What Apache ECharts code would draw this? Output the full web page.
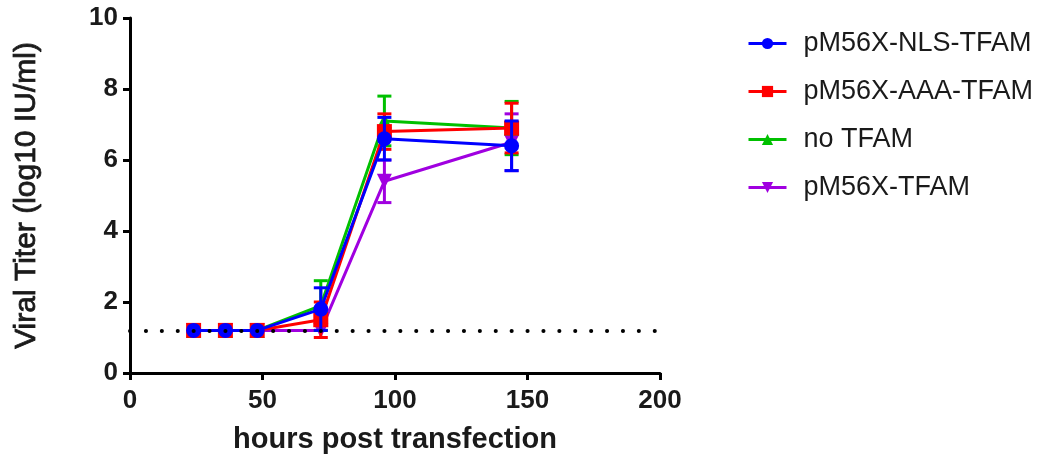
<!DOCTYPE html>
<html>
<head>
<meta charset="utf-8">
<script src="https://cdn.jsdelivr.net/npm/echarts@6/dist/echarts.min.js"></script>
<style>
  html, body { margin: 0; padding: 0; background: #fff; }
  #chart { width: 1052px; height: 462px; }
</style>
</head>
<body>
<div id="chart"></div>
<script>
// Time points (hours post transfection)
const hours = [24, 36, 48, 72, 96, 144];

// Mean viral titer (log10 IU/ml) and error (+/-) for each construct
const nlsMean = [1.2, 1.2, 1.2, 1.8, 6.6, 6.4];
const nlsErr  = [0, 0, 0, 0.6, 0.6, 0.7];
const aaaMean = [1.2, 1.2, 1.2, 1.5, 6.8, 6.9];
const aaaErr  = [0, 0, 0, 0.5, 0.5, 0.7];
const noMean  = [1.2, 1.2, 1.2, 1.9, 7.1, 6.9];
const noErr   = [0, 0, 0, 0.7, 0.7, 0.75];
const wtMean  = [1.2, 1.2, 1.2, 1.2, 5.4, 6.5];
const wtErr   = [0, 0, 0, 0, 0.6, 0.8];

// Limit of detection
const detectionLimit = 1.2;

const seriesNames = ['pM56X-NLS-TFAM', 'pM56X-AAA-TFAM', 'no TFAM', 'pM56X-TFAM'];
const colors = ['#0000ff', '#ff0000', '#00c000', '#a000e0'];

const FONT = 'Liberation Sans, Arial, sans-serif';

const groups = [
  { name: seriesNames[0], mean: nlsMean, err: nlsErr, color: colors[0], symbol: 'circle', size: 15, rot: 0, z: 8 },
  { name: seriesNames[1], mean: aaaMean, err: aaaErr, color: colors[1], symbol: 'rect', size: 15, rot: 0, z: 6 },
  { name: seriesNames[2], mean: noMean,  err: noErr,  color: colors[2], symbol: 'triangle', size: 15, rot: 0, z: 4 },
  { name: seriesNames[3], mean: wtMean,  err: wtErr,  color: colors[3], symbol: 'triangle', size: 15, rot: 180, z: 2 }
];

const series = [];
groups.forEach(function (g) {
  series.push({
    name: g.name,
    type: 'line',
    data: hours.map(function (h, i) { return [h, g.mean[i]]; }),
    symbol: g.symbol,
    symbolSize: g.size,
    symbolRotate: g.rot,
    showAllSymbol: true,
    color: g.color,
    lineStyle: { width: 3, color: g.color },
    itemStyle: { color: g.color },
    z: g.z + 1,
    animation: false
  });
  // Error bars with caps
  series.push({
    name: g.name,
    type: 'custom',
    data: hours.map(function (h, i) { return [h, g.mean[i] - g.err[i], g.mean[i] + g.err[i]]; }),
    renderItem: function (params, api) {
      const x = api.value(0);
      const lo = api.coord([x, api.value(1)]);
      const hi = api.coord([x, api.value(2)]);
      const cap = 7;
      const style = { stroke: g.color, lineWidth: 3 };
      if (Math.abs(hi[1] - lo[1]) < 0.5) return { type: 'group', children: [] };
      return {
        type: 'group',
        children: [
          { type: 'line', shape: { x1: lo[0], y1: lo[1], x2: hi[0], y2: hi[1] }, style: style },
          { type: 'line', shape: { x1: hi[0] - cap, y1: hi[1], x2: hi[0] + cap, y2: hi[1] }, style: style },
          { type: 'line', shape: { x1: lo[0] - cap, y1: lo[1], x2: lo[0] + cap, y2: lo[1] }, style: style }
        ]
      };
    },
    encode: { x: 0, y: [1, 2] },
    z: g.z,
    animation: false
  });
});

// Dotted detection-limit line drawn over the data, one dot every 6 hours
series.push({
  name: 'LOD',
  type: 'line',
  data: [],
  silent: true,
  z: 20,
  markLine: {
    symbol: 'none',
    silent: true,
    z: 20,
    label: { show: false },
    lineStyle: { color: '#000', width: 4, type: [0.1, 15.8], cap: 'round' },
    data: [{ yAxis: detectionLimit }]
  }
});

const chart = echarts.init(document.getElementById('chart'), null, { renderer: 'canvas' });
chart.setOption({
  animation: false,
  backgroundColor: '#fff',
  grid: { left: 130, right: 392, top: 18, bottom: 89, containLabel: false },
  legend: {
    orient: 'vertical',
    left: 742,
    top: 25,
    itemWidth: 38,
    itemHeight: 14,
    itemGap: 21,
    data: seriesNames,
    lineStyle: { width: 3 },
    textStyle: { fontFamily: FONT, fontSize: 27, color: '#1a1a1a', padding: [0, 0, 0, 12] }
  },
  xAxis: {
    type: 'value',
    min: 0, max: 200, interval: 50,
    name: 'hours post transfection',
    nameLocation: 'middle',
    nameGap: 52,
    nameTextStyle: { fontFamily: FONT, fontSize: 29, fontWeight: 'bold', color: '#1a1a1a' },
    axisLine: { lineStyle: { color: '#000', width: 3 } },
    axisTick: { length: 7, lineStyle: { color: '#000', width: 3 } },
    axisLabel: { fontFamily: FONT, fontSize: 26, fontWeight: 'bold', color: '#1a1a1a', margin: 15 },
    splitLine: { show: false }
  },
  yAxis: {
    type: 'value',
    min: 0, max: 10, interval: 2,
    name: 'Viral Titer (log10 IU/ml)',
    nameLocation: 'middle',
    nameGap: 88,
    nameTextStyle: {
      fontFamily: FONT, fontSize: 30, fontWeight: 'normal', color: '#1a1a1a',
      textBorderColor: '#1a1a1a', textBorderWidth: 0.8
    },
    axisLine: { show: true, lineStyle: { color: '#000', width: 3 } },
    axisTick: { show: true, length: 7, lineStyle: { color: '#000', width: 3 } },
    axisLabel: { fontFamily: FONT, fontSize: 26, fontWeight: 'bold', color: '#1a1a1a', margin: 12 },
    splitLine: { show: false }
  },
  series: series
});
</script>
</body>
</html>
